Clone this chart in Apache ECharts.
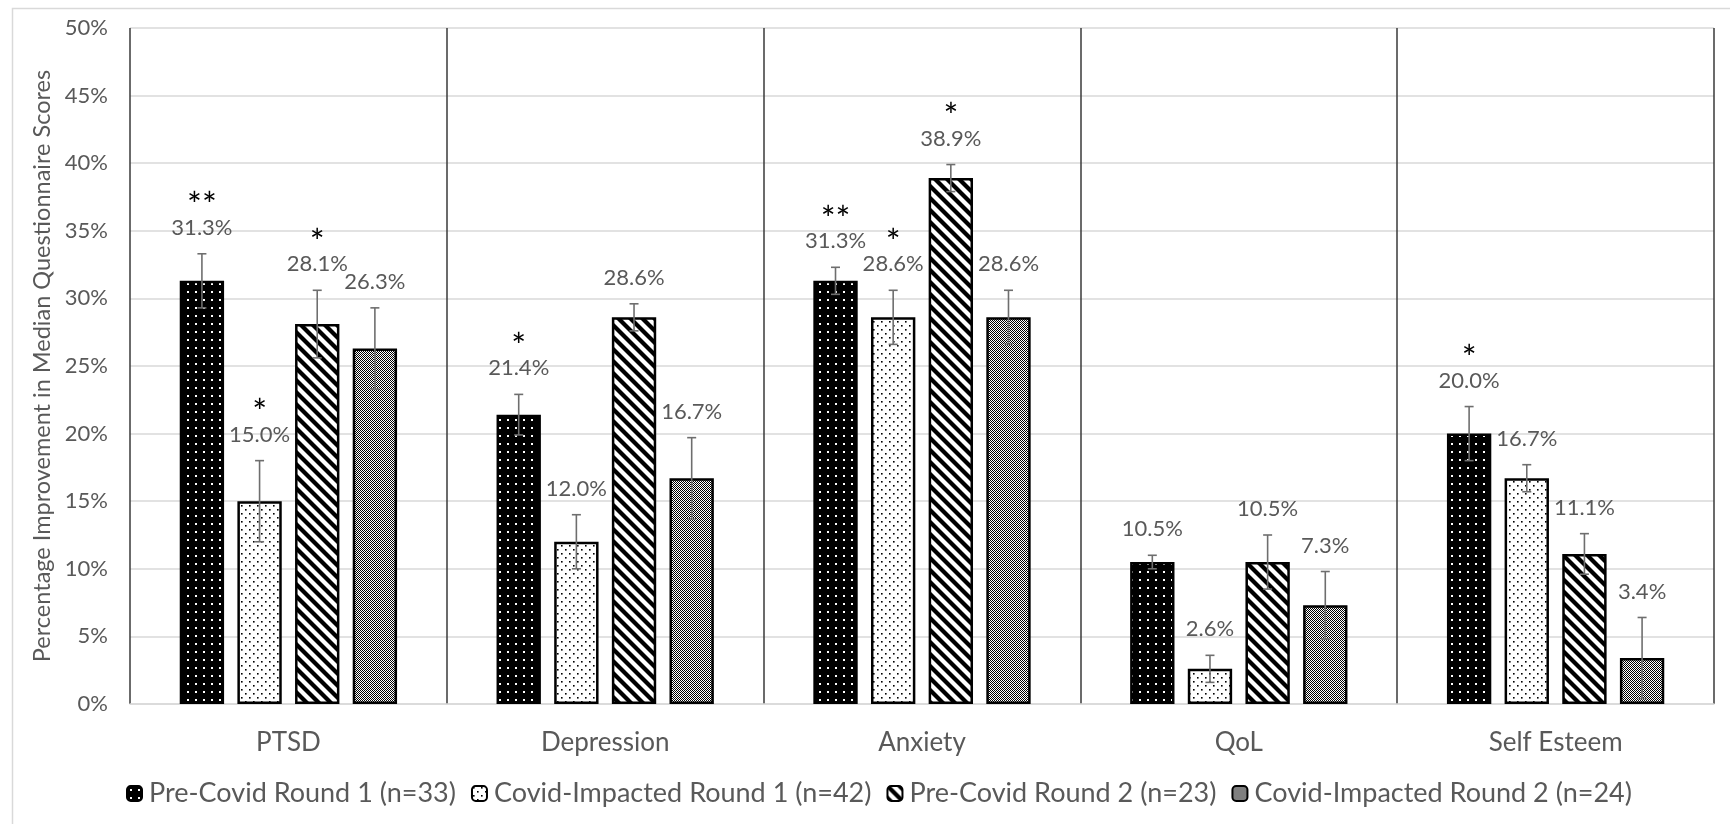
<!DOCTYPE html>
<html>
<head>
<meta charset="utf-8">
<script src="https://cdn.jsdelivr.net/npm/echarts@6/dist/echarts.min.js"></script>
<style>
html,body{margin:0;padding:0;background:#fff;}
#chart{width:1730px;height:824px;}
</style>
</head>
<body>
<div id="chart"></div>
<script>
// ---- data ----
const categories = ['PTSD', 'Depression', 'Anxiety', 'QoL', 'Self Esteem'];
const seriesNames = ['Pre-Covid Round 1 (n=33)', 'Covid-Impacted Round 1 (n=42)', 'Pre-Covid Round 2 (n=23)', 'Covid-Impacted Round 2 (n=24)'];
const preCovidR1 = [31.3, 21.4, 31.3, 10.5, 20.0];
const covidR1 = [15.0, 12.0, 28.6, 2.6, 16.7];
const preCovidR2 = [28.1, 28.6, 38.9, 10.5, 11.1];
const covidR2 = [26.3, 16.7, 28.6, 7.3, 3.4];
const preCovidR1Err = [2.0, 1.5, 1.0, 0.5, 2.0];
const covidR1Err = [3.0, 2.0, 2.0, 1.0, 1.0];
const preCovidR2Err = [2.5, 1.0, 1.0, 2.0, 1.5];
const covidR2Err = [3.0, 3.0, 2.0, 2.5, 3.0];
const preCovidR1Stars = ['**', '*', '**', '', '*'];
const covidR1Stars = ['*', '', '*', '', ''];
const preCovidR2Stars = ['*', '', '*', '', ''];
const covidR2Stars = ['', '', '', '', ''];
const yAxisMin = 0, yAxisMax = 50, yAxisStep = 5;

// ---- styling ----
const BAR_W = 0.14, BAR_GAP = 0.30;
const FONT = 'Lato, "Open Sans", sans-serif';
const GRAY_TEXT = '#595959';

function makeTile(w, h, draw) {
  const c = document.createElement('canvas');
  c.width = w; c.height = h;
  const ctx = c.getContext('2d');
  draw(ctx, w, h);
  return { image: c, repeat: 'repeat' };
}
const patBlackDots = makeTile(8, 8, (ctx, w, h) => {
  ctx.fillStyle = '#000'; ctx.fillRect(0, 0, w, h);
  ctx.fillStyle = '#fff'; ctx.fillRect(3, 3, 2, 2);
});
const patWhiteDots = makeTile(8, 8, (ctx, w, h) => {
  ctx.fillStyle = '#fff'; ctx.fillRect(0, 0, w, h);
  ctx.fillStyle = '#000'; ctx.fillRect(1, 1, 1.6, 1.6); ctx.fillRect(5, 5, 1.6, 1.6);
});
const patStripes = makeTile(12, 12, (ctx, w, h) => {
  ctx.fillStyle = '#fff'; ctx.fillRect(0, 0, w, h);
  ctx.strokeStyle = '#000'; ctx.lineWidth = 4.2;
  [-12, 0, 12].forEach((ox) => {
    ctx.beginPath(); ctx.moveTo(ox - 3, -3); ctx.lineTo(ox + 15, 15); ctx.stroke();
  });
});
const patChecker = makeTile(2, 2, (ctx) => {
  ctx.fillStyle = '#fff'; ctx.fillRect(0, 0, 2, 2);
  ctx.fillStyle = '#000'; ctx.fillRect(0, 0, 1, 1); ctx.fillRect(1, 1, 1, 1);
});
const patterns = [patBlackDots, patWhiteDots, patStripes, patChecker];

const values = [preCovidR1, covidR1, preCovidR2, covidR2];
const errs = [preCovidR1Err, covidR1Err, preCovidR2Err, covidR2Err];
const stars = [preCovidR1Stars, covidR1Stars, preCovidR2Stars, covidR2Stars];

const errRows = [];
const errMeta = [];
values.forEach((vals, si) => {
  vals.forEach((v, ci) => {
    errRows.push([ci, v, errs[si][ci], si]);
    errMeta.push({ star: stars[si][ci], label: v.toFixed(1) + '%' });
  });
});

const barSeries = seriesNames.map((name, si) => ({
  name: name,
  type: 'bar',
  data: values[si],
  barWidth: (BAR_W * 100) + '%',
  barGap: (BAR_GAP * 100) + '%',
  itemStyle: { color: patterns[si], borderColor: '#000', borderWidth: 2.5 },
  z: 2
}));

const errorSeries = {
  type: 'custom',
  name: 'errors',
  data: errRows,
  encode: { x: 0, y: 1 },
  z: 5,
  clip: false,
  silent: true,
  renderItem: function (params, api) {
    const ci = api.value(0), v = api.value(1), e = api.value(2), si = api.value(3);
    const band = api.size([1, 0])[0];
    const dx = (si - 1.5) * band * BAR_W * (1 + BAR_GAP);
    const top = api.coord([ci, v + e]);
    const bot = api.coord([ci, Math.max(v - e, 0)]);
    const x = top[0] + dx;
    const cap = 4.5;
    const ls = { stroke: '#6e6e6e', lineWidth: 1.6 };
    const meta = errMeta[params.dataIndex];
    const children = [
      { type: 'line', shape: { x1: x, y1: top[1], x2: x, y2: bot[1] }, style: ls },
      { type: 'line', shape: { x1: x - cap, y1: top[1], x2: x + cap, y2: top[1] }, style: ls },
      { type: 'line', shape: { x1: x - cap, y1: bot[1], x2: x + cap, y2: bot[1] }, style: ls },
      { type: 'text', x: x, y: top[1] - 26, style: { text: meta.label, fill: GRAY_TEXT, font: '22px ' + FONT, align: 'center', verticalAlign: 'middle' } }
    ];
    if (meta.star) {
      children.push({ type: 'text', x: x, y: top[1] - 26 - 22, style: { text: meta.star, fill: '#000', font: '35px ' + FONT, align: 'center', verticalAlign: 'middle' } });
    }
    return { type: 'group', children: children };
  }
};

const chart = echarts.init(document.getElementById('chart'), null, { renderer: 'canvas' });
chart.setOption({
  backgroundColor: '#fff',
  animation: false,
  graphic: [{
    type: 'rect', left: 10, top: 6, z: -1,
    shape: { width: 1760, height: 860 },
    style: { fill: 'none', stroke: '#d9d9d9', lineWidth: 1.5 }
  }],
  grid: { left: 130, right: 16, top: 28, bottom: 120 },
  legend: {
    data: seriesNames,
    left: 121, top: 775,
    itemWidth: 15, itemHeight: 15, itemGap: 15,
    textStyle: { color: GRAY_TEXT, fontSize: 27, fontFamily: FONT, padding: [0, 0, 0, 2] },
    itemStyle: { borderWidth: 2 }
  },
  xAxis: {
    type: 'category',
    data: categories,
    axisLine: { show: true, lineStyle: { color: '#d9d9d9', width: 1.5 } },
    axisTick: { show: false },
    axisLabel: { color: GRAY_TEXT, fontSize: 26, fontFamily: FONT, margin: 26 },
    splitLine: { show: true, lineStyle: { color: '#3a3a3a', width: 1.5 } }
  },
  yAxis: {
    type: 'value',
    min: yAxisMin, max: yAxisMax, interval: yAxisStep,
    name: 'Percentage Improvement in Median Questionnaire Scores',
    nameLocation: 'middle', nameGap: 72,
    nameTextStyle: { color: GRAY_TEXT, fontSize: 23.5, fontFamily: FONT },
    axisLine: { show: false },
    axisTick: { show: false },
    axisLabel: { color: GRAY_TEXT, fontSize: 22, fontFamily: FONT, margin: 22, formatter: '{value}%' },
    splitLine: { show: true, lineStyle: { color: '#d9d9d9', width: 1.5 } }
  },
  series: barSeries.concat([errorSeries])
});
</script>
</body>
</html>
